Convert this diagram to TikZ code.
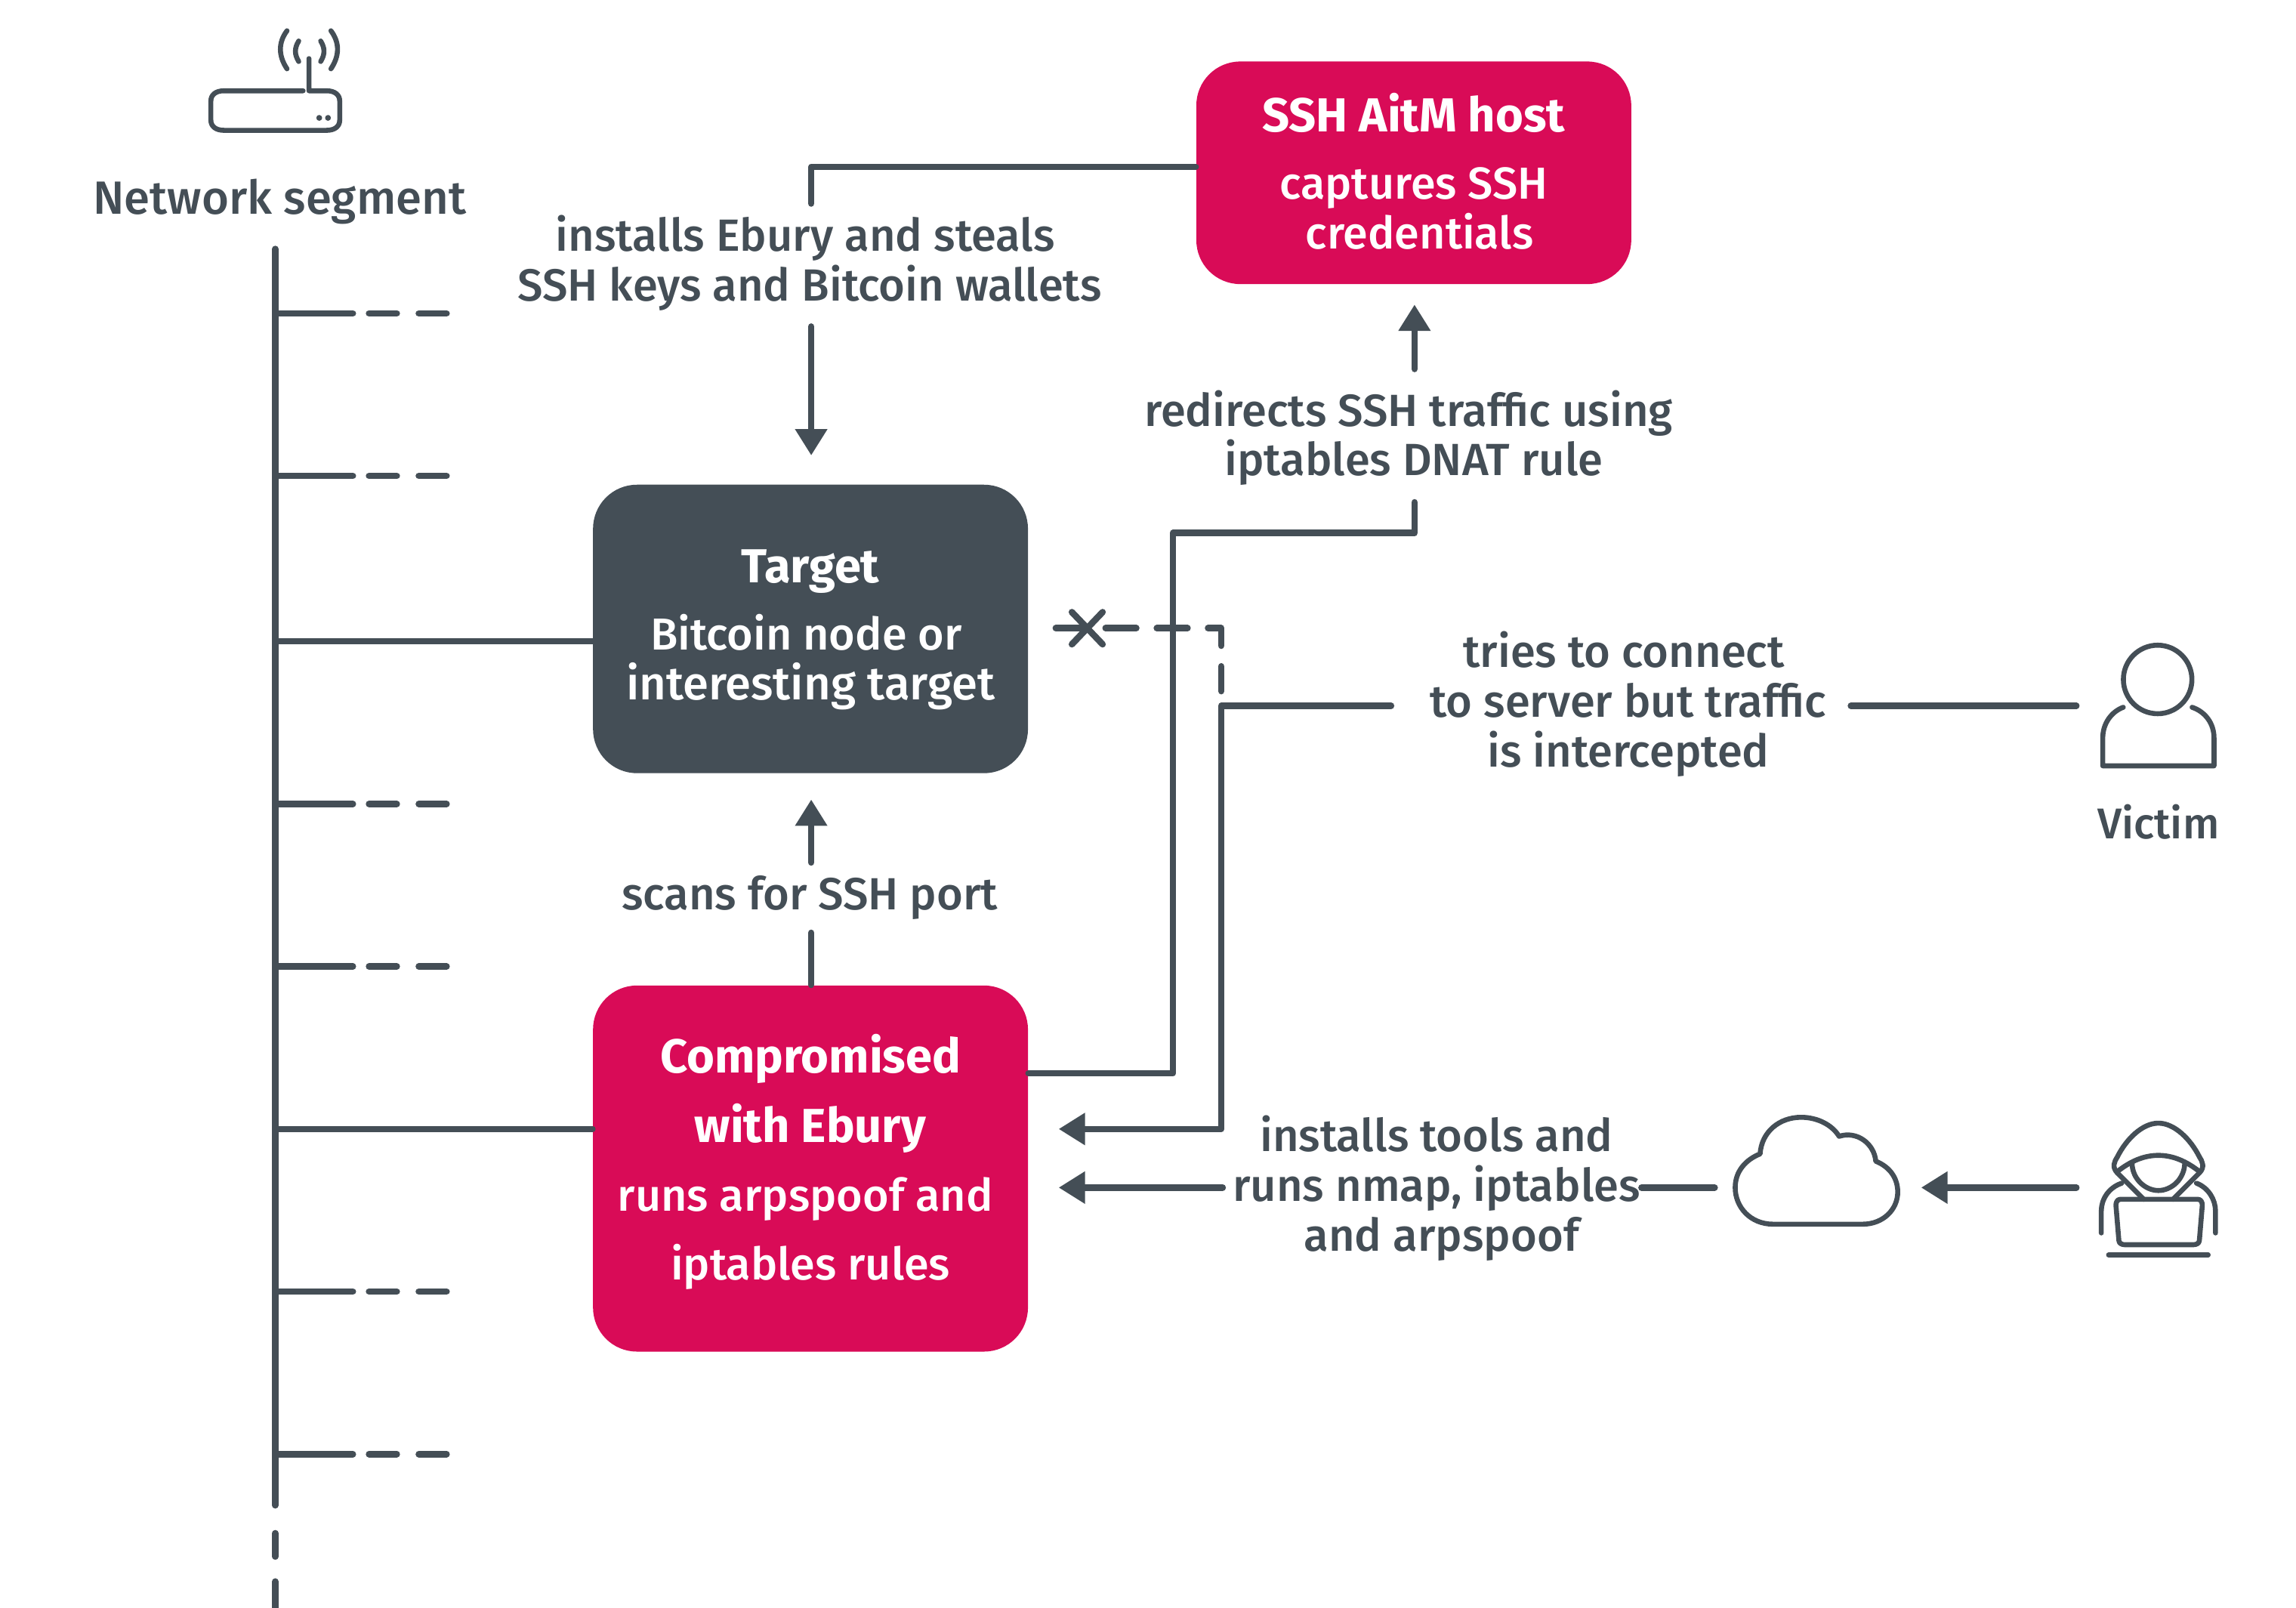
\documentclass[tikz,border=0pt]{standalone}
\usepackage{fontspec}
\setmainfont{Fira Sans}[UprightFont=* Medium,BoldFont=* Bold]
\usetikzlibrary{arrows.meta}
\definecolor{ink}{HTML}{444E56}
\definecolor{crim}{HTML}{D90B57}
\newcommand{\boldtitle}[1]{{\fontsize{16.3}{17}\selectfont\textbf{#1}}}
\tikzset{
  x=0.5pt,y=-0.5pt,
  link/.style={draw=ink,line width=2.2pt,line cap=round,line join=round},
  arrowlink/.style={link,-{Triangle[length=9pt,width=10.5pt]}},
  icon/.style={draw=ink,line width=1.7pt,line cap=round,line join=round},
  box/.style={rounded corners=15pt,inner sep=0pt,minimum width=148.5pt},
  lab/.style={text=ink,align=center,inner sep=0pt,font=\fontsize{15.4}{17}\selectfont},
  boxtext/.style={text=white,align=center,inner sep=0pt,font=\fontsize{15.3}{17}\selectfont}
}
\begin{document}
\begin{tikzpicture}
\useasboundingbox (0,0) rectangle (1568,1098);
% boxes
\node[box,fill=crim,minimum height=76pt] (ssh) at (965.5,118) {};
\node[box,fill=ink,minimum height=98.5pt] (target) at (553.5,429.5) {};
\node[box,fill=crim,minimum height=125pt] (comp) at (553.5,798) {};
\node[boxtext] (sshT) at (965.5,117) {\boldtitle{SSH AitM host}\\[6pt]captures SSH\\\hspace*{4pt}credentials};
\node[boxtext] (targetT) at (553.5,430) {\boldtitle{Target}\\[6pt]Bitcoin node or\kern3pt\\{\fontsize{15.9}{17}\selectfont interesting target}};
\node[boxtext] (compT) at (553.5,793.5) {\boldtitle{Compromised}\\[6.5pt]\boldtitle{with Ebury}\\[6.5pt]runs arpspoof and\kern3.5pt\\[6.5pt]iptables rules};
% labels
\node[lab,font=\fontsize{15.9}{17}\selectfont] (lnet) at (191,137.5) {Network segment};
\node[lab] (lsteal) at (553,179.5) {installs Ebury and steals\kern3pt\\SSH keys and Bitcoin wallets};
\node[lab] (lredir) at (962,299) {redirects SSH traffic using\\\hspace*{3.5pt}iptables DNAT rule};
\node[lab] (ltries) at (1112,481) {tries to connect\kern3pt\\to server but traffic\\is intercepted};
\node[lab] (lscan) at (553,613) {scans for SSH port};
\node[lab] (ltools) at (981,811.5) {installs tools and\\runs nmap, iptables\\\hspace*{3.5pt}and arpspoof};
\node[lab,font=\fontsize{14.7}{17}\selectfont] (lvic) at (1474,561.5) {Victim};
% network bus
\coordinate (bt) at (188,170); \coordinate (bb) at (188,1028);
\draw[link] (bt) -- (bb);
\draw[link] (188,1047) -- (188,1063);
\draw[link] (188,1080) -- (188,1098);
\foreach \y in {214,325,549,660,882,993}{
  \draw[link] (188,\y) -- (241,\y);
  \draw[link] (252,\y) -- (271,\y);
  \draw[link] (286,\y) -- (305,\y);
}
\draw[link] (188,438) -- (target.west |- 0,438);
\draw[link] (188,771) -- (comp.west |- 0,771);
% connectors
\draw[link] (ssh.west |- 0,114) -- (554,114) -- (554,139);
\draw[arrowlink] (554,223) -- (554,311);
\draw[link] (comp.east |- 0,733) -- (801,733) -- (801,364) -- (966,364) -- (966,343);
\draw[arrowlink] (966,252) -- (966,208);
\draw[link] (comp.north -| 554,0) -- (554,637);
\draw[arrowlink] (554,589) -- (554,546);
\coordinate (vic) at (1418,482);
\draw[link] (vic) -- (1264,482);
\draw[arrowlink] (950,482) -- (834,482) -- (834,771) -- (723,771);
% blocked path
\draw[link] (721,429) -- (742.5,429);
\draw[link] (755,429) -- (776,429);
\draw[link] (790,429) -- (811,429);
\draw[link] (825,429) -- (834,429) -- (834,441);
\draw[link] (834,455) -- (834,472);
\draw[link] (732,418) -- (753,440);
\draw[link] (753,418) -- (732,440);
% attacker path
\draw[arrowlink] (1418,811) -- (1312,811);
\draw[link] (1171,811) -- (1121,811);
\draw[arrowlink] (835,811) -- (723,811);
% router icon
\draw[icon] (207,62) -- (153,62) .. controls (147,62) and (144,65) .. (144,69) -- (144,82) .. controls (144,86) and (147,89) .. (153,89) -- (223,89) .. controls (229,89) and (232,86) .. (232,82) -- (232,69) .. controls (232,65) and (229,62) .. (223,62) -- (211,62) -- (211,40);
\draw[icon] (196,21) .. controls (190,29) and (190,38) .. (196,47);
\draw[icon] (204,28) .. controls (201,33) and (201,37) .. (204,42);
\draw[icon] (219,28) .. controls (222,33) and (222,37) .. (219,42);
\draw[icon] (226,21) .. controls (232,29) and (232,38) .. (226,47);
\fill[ink] (218,80.5) circle (1pt) (224,80.5) circle (1pt);
% victim icon
\draw[icon] (1473.5,464) circle (11.7pt);
\draw[icon] (1450,483) .. controls (1442,486) and (1436,494) .. (1436,504) -- (1436,523) -- (1512,523) -- (1512,504) .. controls (1512,494) and (1506,486) .. (1497,483);
% cloud icon
\draw[icon] (1211,836) .. controls (1195,836) and (1185,824) .. (1185,811) .. controls (1185,800) and (1192,792) .. (1202,788) .. controls (1203,773) and (1215,763) .. (1230,763) .. controls (1241,763) and (1251,768) .. (1256,776) .. controls (1268,772) and (1280,781) .. (1281,793) .. controls (1291,797) and (1296,805) .. (1296,814) .. controls (1296,826) and (1286,836) .. (1272,836) -- cycle;
% hacker icon
\draw[icon] (1446,801) .. controls (1442,797) and (1444,793) .. (1446,790) .. controls (1452,778) and (1463,767) .. (1474,767) .. controls (1485,767) and (1496,778) .. (1502,790) .. controls (1504,793) and (1506,797) .. (1502,801) -- (1484,819);
\draw[icon] (1446,801) -- (1464,819);
\draw[icon] (1446,800) .. controls (1455,793) and (1464,789) .. (1474,789) .. controls (1484,789) and (1493,793) .. (1502,800);
\draw[icon] (1456,794) .. controls (1456,805) and (1465,813) .. (1474,813) .. controls (1483,813) and (1492,805) .. (1492,794);
\draw[icon] (1449,808) .. controls (1440,811) and (1435,819) .. (1435,827) -- (1435,842);
\draw[icon] (1500,808) .. controls (1508,811) and (1513,819) .. (1513,827) -- (1513,842);
\draw[icon] (1448,819) -- (1501,819) .. controls (1503,819) and (1504,821) .. (1504,823) -- (1502,847) .. controls (1502,849) and (1500,850) .. (1498,850) -- (1451,850) .. controls (1449,850) and (1447,849) .. (1447,847) -- (1445,823) .. controls (1445,821) and (1446,819) .. (1448,819) -- cycle;
\draw[icon] (1440,857) -- (1508,857);
\end{tikzpicture}
\end{document}
